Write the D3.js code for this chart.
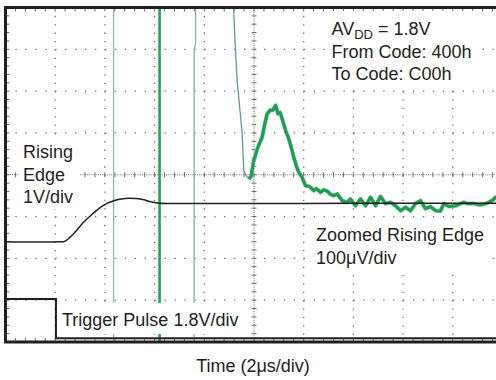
<!DOCTYPE html>
<html>
<head>
<meta charset="utf-8">
<script src="https://cdn.jsdelivr.net/npm/d3@7"></script>
<style>
  html, body { margin: 0; padding: 0; background: #fff; }
  svg { display: block; }
  text { font-family: "Liberation Sans", Arial, sans-serif; fill: #231f20; }
</style>
</head>
<body>
<div id="chart"></div>
<script>
// ---- Data (time in µs, amplitude in screen divisions) ----
const timeDomain = [0, 20];          // 2 µs/div, 10 divisions
const divDomain = [-4, 4];           // 8 vertical divisions
const xGridTimes = [2, 4, 6, 8, 12, 14, 16, 18];
const yGridDivs = [-3, -2, -1, 1, 2, 3];

// Rising edge, 1V/div
const risingEdge = [
  [0, -1.60], [1.2, -1.61], [2.33, -1.60], [2.74, -1.41], [3.15, -1.13],
  [3.5, -0.94], [3.82, -0.78], [4.1, -0.68], [4.36, -0.62], [4.65, -0.58],
  [4.96, -0.56], [5.27, -0.57], [5.57, -0.60], [5.8, -0.64], [6.04, -0.67],
  [6.51, -0.69], [7.85, -0.69], [10.0, -0.69], [14.0, -0.68], [19.9, -0.68]
];

// Trigger pulse, 1.8V/div
const triggerPulse = [
  [0, -2.97], [2.03, -2.97], [2.03, -3.91], [20, -3.91]
];

// Zoomed rising edge, 100µV/div (off-scale descent then settling)
const zoomDescent = [
  [9.155, 4.3], [9.235, 3.21], [9.32, 2.25], [9.52, 1.02], [9.59, 0.10],
  [9.70, -0.04], [9.79, -0.10]
];
const zoomSettle = [
  [9.79, -0.10], [9.88, -0.04], [9.99, 0.34], [10.14, 0.63], [10.33, 0.90],
  [10.42, 1.18], [10.53, 1.46], [10.66, 1.55], [10.76, 1.54], [10.87, 1.66],
  [10.96, 1.46], [11.05, 1.49], [11.13, 1.34], [11.27, 1.06], [11.40, 0.86],
  [11.51, 0.63], [11.60, 0.42], [11.71, 0.20], [11.80, 0.06], [11.94, -0.07],
  [12.07, -0.26], [12.23, -0.28], [12.41, -0.38], [12.51, -0.33], [12.68, -0.42],
  [12.80, -0.36], [12.94, -0.39], [13.08, -0.47], [13.21, -0.50], [13.35, -0.46],
  [13.55, -0.62], [13.75, -0.66], [13.88, -0.58], [14.08, -0.74], [14.29, -0.58],
  [14.49, -0.74], [14.69, -0.54], [14.89, -0.74], [15.09, -0.52], [15.29, -0.69],
  [15.49, -0.66], [15.69, -0.74], [15.90, -0.86], [16.10, -0.78], [16.30, -0.86],
  [16.50, -0.69], [16.70, -0.62], [16.90, -0.81], [17.10, -0.76], [17.30, -0.86],
  [17.50, -0.87], [17.64, -0.69], [17.84, -0.76], [18.11, -0.74], [18.44, -0.66],
  [18.58, -0.69], [18.84, -0.69], [19.11, -0.72], [19.38, -0.68], [19.58, -0.62],
  [19.72, -0.54], [19.92, -0.57]
];

// Off-scale spikes of the zoomed channel (vertical lines)
const spikeThinA = [[4.35, 4.2], [4.35, -4.0]];
const spikeThick = [[6.20, 4.2], [6.20, -4.0]];
const spikeThinB = [[7.65, 4.2], [7.65, 3.15], [7.59, 3.0], [7.59, -4.0]];

// Annotations
const cornerLines = ["From Code: 400h", "To Code: C00h"];
const risingLabel = ["Rising", "Edge", "1V/div"];
const zoomLabel = ["Zoomed Rising Edge", "100\u03BCV/div"];
const triggerLabel = "Trigger Pulse 1.8V/div";
const xTitle = "Time (2\u03BCs/div)";

// ---- Drawing ----
const W = 496, H = 380;
const svg = d3.select("#chart").append("svg").attr("width", W).attr("height", H);

const x = d3.scaleLinear().domain(timeDomain).range([5.5, 502.5]);
const y = d3.scaleLinear().domain(divDomain).range([342, 7.5]);
const minorX = (x(2) - x(0)) / 5;
const minorY = (y(-4) - y(-3)) / 5;

svg.append("defs").append("clipPath").attr("id", "plot")
  .append("rect").attr("x", x(0)).attr("y", y(4)).attr("width", W - x(0)).attr("height", y(-4) - y(4));

const grid = svg.append("g").attr("stroke", "#6d6d6d").attr("stroke-width", 1.3);
// vertical dotted gridlines
grid.selectAll("line.v").data(xGridTimes).join("line")
  .attr("x1", d => x(d)).attr("x2", d => x(d))
  .attr("y1", y(4)).attr("y2", y(-4))
  .attr("stroke-dasharray", `1.3,${(minorY - 1.3).toFixed(2)}`);
// horizontal dotted gridlines
grid.selectAll("line.h").data(yGridDivs).join("line")
  .attr("y1", d => y(d)).attr("y2", d => y(d))
  .attr("x1", x(0)).attr("x2", W)
  .attr("stroke-dasharray", `1.3,${(minorX - 1.3).toFixed(2)}`);

// centre crosshair with minor ticks
const cx = x(10), cy = y(0);
grid.append("line").attr("x1", x(0)).attr("x2", W).attr("y1", cy).attr("y2", cy)
  .attr("stroke-dasharray", "1,1.2").attr("stroke-width", 1);
grid.append("line").attr("x1", cx).attr("x2", cx).attr("y1", y(4)).attr("y2", y(-4))
  .attr("stroke-dasharray", "1,1.2").attr("stroke-width", 1);
const hTicks = d3.range(0, 20.001, 0.4);
const vTicks = d3.range(-4, 4.001, 0.2);
grid.selectAll("line.ht").data(hTicks).join("line")
  .attr("x1", d => x(d)).attr("x2", d => x(d))
  .attr("y1", cy - 2.5).attr("y2", cy + 2.5).attr("stroke-width", 1);
grid.selectAll("line.vt").data(vTicks).join("line")
  .attr("y1", d => y(d)).attr("y2", d => y(d))
  .attr("x1", cx - 2.5).attr("x2", cx + 2.5).attr("stroke-width", 1);
// border ticks
grid.selectAll("line.tt").data(hTicks).join("line")
  .attr("x1", d => x(d)).attr("x2", d => x(d))
  .attr("y1", y(4)).attr("y2", y(4) + 4).attr("stroke-width", 1);
grid.selectAll("line.bt").data(hTicks).join("line")
  .attr("x1", d => x(d)).attr("x2", d => x(d))
  .attr("y1", y(-4)).attr("y2", y(-4) - 4).attr("stroke-width", 1);
grid.selectAll("line.lt").data(vTicks).join("line")
  .attr("y1", d => y(d)).attr("y2", d => y(d))
  .attr("x1", x(0)).attr("x2", x(0) + 4).attr("stroke-width", 1);

const line = d3.line().x(d => x(d[0])).y(d => y(d[1]));
const line2 = d3.line().x(d => x(d[0])).y(d => y(d[1])).curve(d3.curveMonotoneX);
const traces = svg.append("g").attr("clip-path", "url(#plot)").attr("fill", "none");

traces.append("path").datum(spikeThinA).attr("d", line).attr("stroke", "#93b8a8").attr("stroke-width", 1.3);
traces.append("path").datum(spikeThinB).attr("d", line).attr("stroke", "#88b0a6").attr("stroke-width", 1.3);
traces.append("path").datum(spikeThick).attr("d", line).attr("stroke", "#22a54f").attr("stroke-width", 2.6);

traces.append("path").datum(zoomDescent).attr("d", line).attr("stroke", "#5f9b92").attr("stroke-width", 1.3);
traces.append("path").datum(zoomSettle).attr("d", line).attr("stroke", "#8cc8b6").attr("stroke-width", 4.2).attr("stroke-linejoin", "round");
traces.append("path").datum(zoomSettle).attr("d", line).attr("stroke", "#1f9d4a").attr("stroke-width", 3).attr("stroke-linejoin", "round");

traces.append("path").datum(risingEdge).attr("d", line2).attr("stroke", "#231f20").attr("stroke-width", 1.5);
traces.append("path").datum(triggerPulse).attr("d", line).attr("stroke", "#231f20").attr("stroke-width", 2);

// label backgrounds
const bg = svg.append("g").attr("fill", "#fff");
bg.append("rect").attr("x", 327).attr("y", 11).attr("width", 150).attr("height", 76);
bg.append("rect").attr("x", 19).attr("y", 139).attr("width", 60).attr("height", 70);
bg.append("rect").attr("x", 312).attr("y", 222).attr("width", 180).attr("height", 46);
bg.append("rect").attr("x", 58).attr("y", 303).attr("width", 190).attr("height", 31);

const fs = 18;
const t1 = svg.append("text").attr("x", 331.5).attr("y", 35).attr("font-size", fs);
t1.append("tspan").text("AV");
t1.append("tspan").attr("font-size", 13).attr("dy", 4).text("DD");
t1.append("tspan").attr("dy", -4).text(" = 1.8V");
svg.selectAll("text.corner").data(cornerLines).join("text")
  .attr("x", 331.5).attr("y", (d, i) => 57.5 + i * 22.5).attr("font-size", fs).text(d => d);
svg.selectAll("text.rise").data(risingLabel).join("text")
  .attr("x", 23).attr("y", (d, i) => 158 + i * 22.7).attr("font-size", fs).text(d => d);
svg.selectAll("text.zoom").data(zoomLabel).join("text")
  .attr("x", 316).attr("y", (d, i) => 241 + i * 22.5).attr("font-size", fs).text(d => d);
svg.append("text").attr("x", 62).attr("y", 326).attr("font-size", fs).text(triggerLabel);
svg.append("text").attr("x", 253).attr("y", 372).attr("font-size", fs).attr("text-anchor", "middle").text(xTitle);

// frame
const frame = svg.append("g").attr("stroke", "#231f20").attr("stroke-width", 3).attr("fill", "none");
frame.append("path").attr("d", `M${W},${y(4)}H${x(0)}V${y(-4)}H${W}`);
</script>
</body>
</html>
